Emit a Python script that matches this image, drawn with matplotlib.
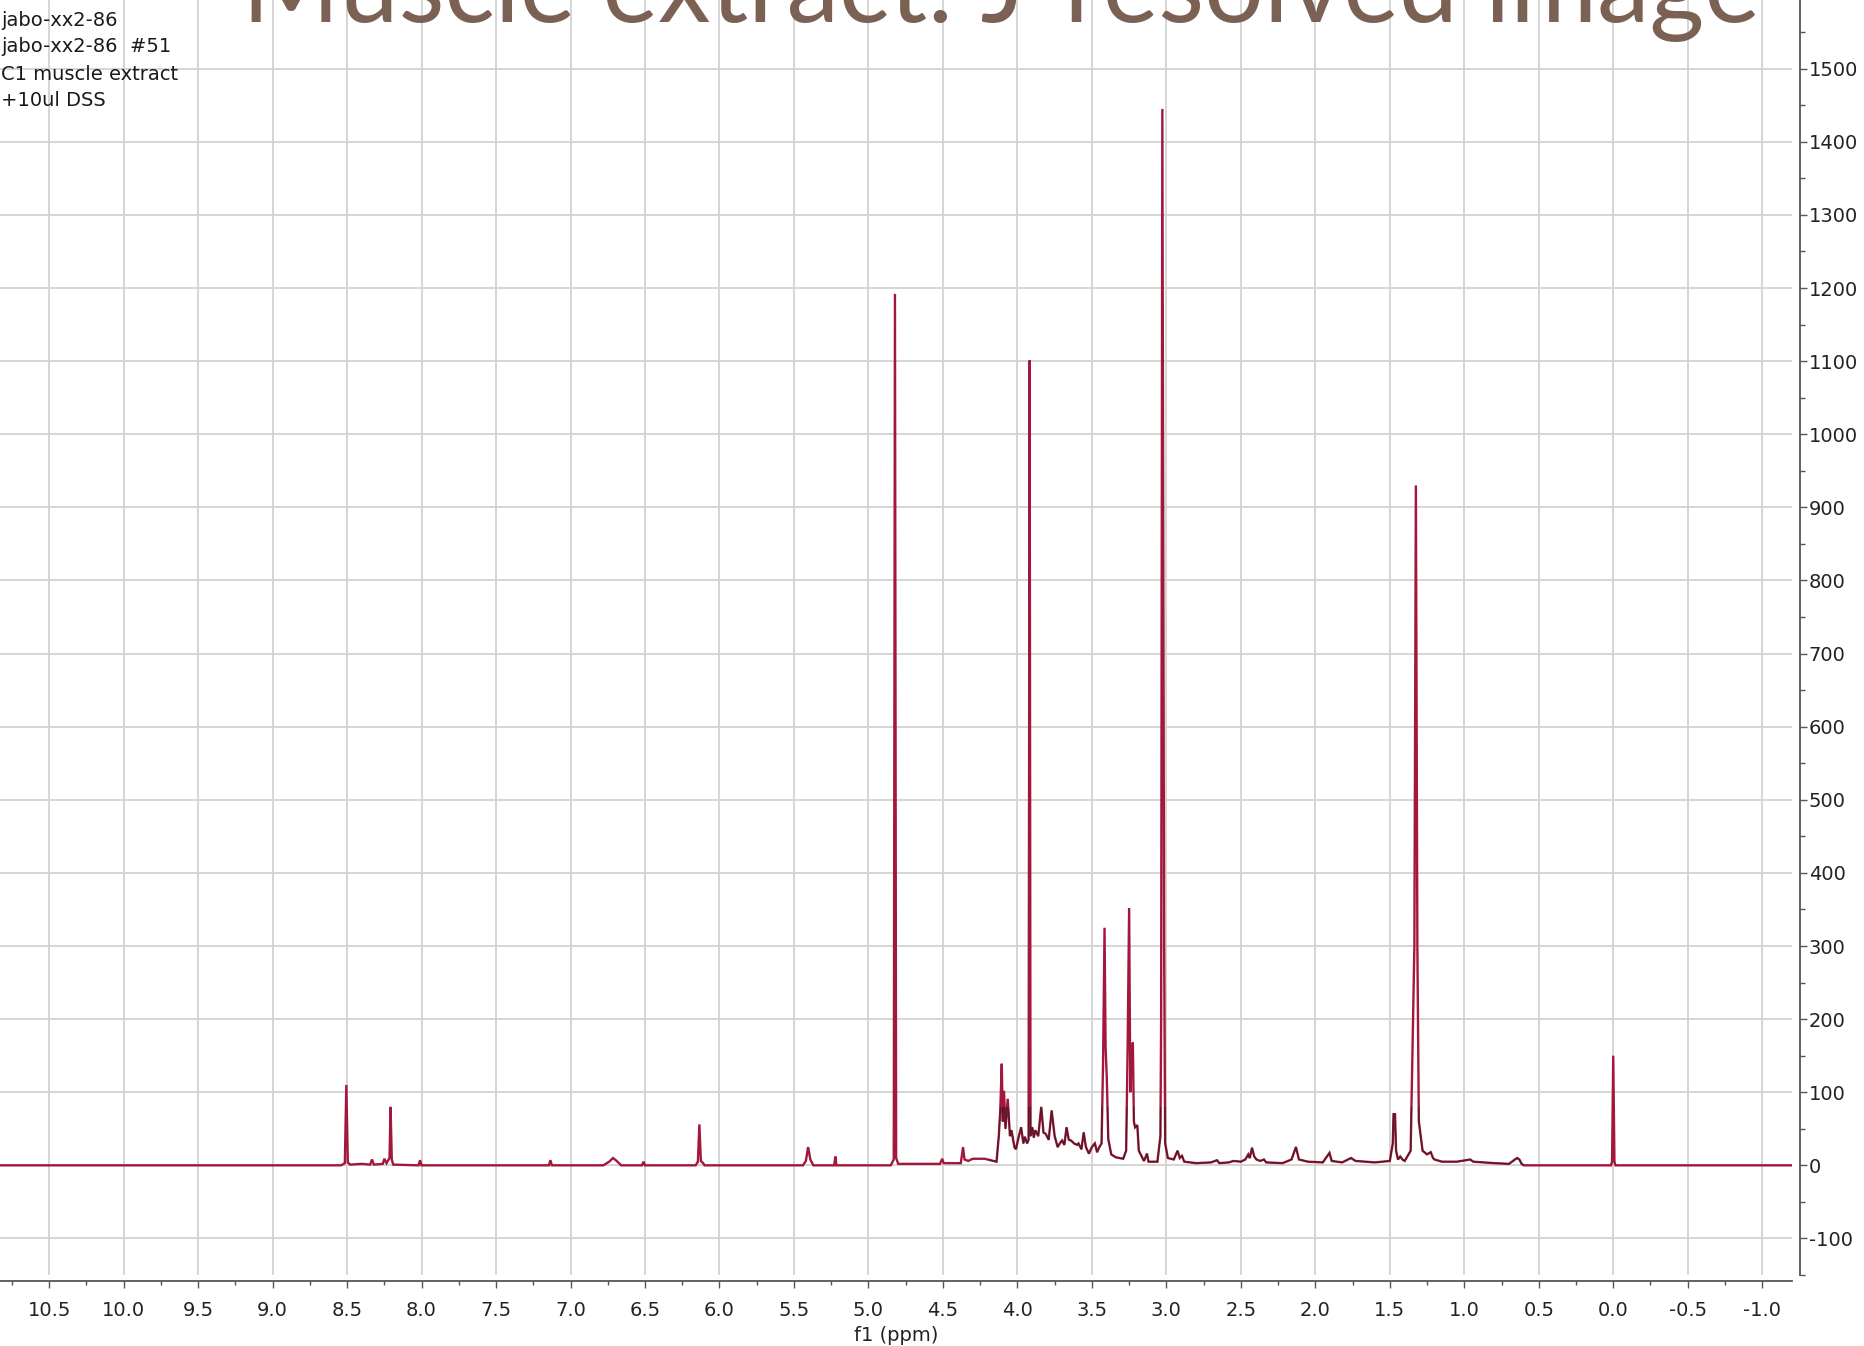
import numpy as np
import matplotlib
matplotlib.use("Agg")
import matplotlib.pyplot as plt
from matplotlib.ticker import MultipleLocator, FuncFormatter
from matplotlib.patches import Rectangle

# figure is 1864x1346 px
W, H = 1864, 1346
plt.rcParams['axes.unicode_minus'] = False
plt.rcParams['font.family'] = ['DejaVu Sans']

title = 'Muscle extract: J-resolved image'
sample_lines = ['jabo-xx2-86', 'jabo-xx2-86  #51', 'C1 muscle extract', '+10ul DSS']
x_label = 'f1 (ppm)'

# spectrum vertices (ppm, intensity), high ppm -> low ppm
ppm = [10.83, 8.54, 8.515, 8.505, 8.495, 8.48, 8.40, 8.345, 8.333, 8.32,
       8.26, 8.25, 8.235, 8.215, 8.208, 8.200, 8.19, 8.02, 8.01, 8.00,
       7.50, 7.145, 7.135, 7.125, 6.78, 6.74, 6.715, 6.69, 6.66, 6.52,
       6.51, 6.50, 6.16, 6.145, 6.135, 6.125, 6.11, 6.10, 5.44, 5.42,
       5.405, 5.39, 5.37, 5.23, 5.222, 5.215, 4.85, 4.83, 4.822, 4.814,
       4.80, 4.52, 4.505, 4.495, 4.38, 4.365, 4.355, 4.33, 4.30, 4.22,
       4.14, 4.125, 4.115, 4.105, 4.098, 4.09, 4.08, 4.065, 4.05, 4.04,
       4.02, 4.01, 3.99, 3.975, 3.96, 3.95, 3.935, 3.925, 3.918, 3.912,
       3.90, 3.89, 3.88, 3.86, 3.84, 3.825, 3.81, 3.79, 3.77, 3.75,
       3.73, 3.715, 3.70, 3.685, 3.67, 3.655, 3.64, 3.62, 3.60, 3.59,
       3.57, 3.555, 3.54, 3.52, 3.50, 3.48, 3.465, 3.45, 3.435, 3.425,
       3.415, 3.408, 3.40, 3.39, 3.37, 3.34, 3.29, 3.27, 3.26, 3.25,
       3.242, 3.232, 3.225, 3.218, 3.21, 3.195, 3.185, 3.175, 3.15, 3.13,
       3.12, 3.06, 3.04, 3.035, 3.027, 3.015, 3.008, 2.99, 2.95, 2.925,
       2.91, 2.895, 2.88, 2.80, 2.70, 2.66, 2.645, 2.58, 2.55, 2.50,
       2.47, 2.45, 2.44, 2.425, 2.41, 2.395, 2.37, 2.345, 2.33, 2.22,
       2.16, 2.13, 2.11, 2.05, 1.95, 1.905, 1.89, 1.82, 1.76, 1.73,
       1.60, 1.50, 1.48, 1.475, 1.465, 1.458, 1.445, 1.43, 1.415, 1.40,
       1.36, 1.335, 1.325, 1.315, 1.305, 1.28, 1.25, 1.225, 1.21, 1.20,
       1.15, 1.05, 0.96, 0.94, 0.80, 0.70, 0.66, 0.645, 0.63, 0.615,
       0.60, 0.015, 0.008, 0.0, -0.008, -0.015, -1.20]
intensity = [0, 0, 3, 110, 4, 1, 2, 1, 8, 1,
             2, 9, 3, 10, 80, 8, 1, 0, 7, 0,
             0, 0, 7, 0, 0, 5, 10, 6, 0, 0,
             5, 0, 0, 5, 56, 6, 3, 0, 0, 6,
             25, 8, 0, 0, 12, 0, 0, 8, 1192, 10,
             2, 2, 9, 3, 3, 25, 8, 6, 9, 9,
             5, 40, 75, 139, 60, 102, 50, 91, 40, 48,
             25, 22, 40, 52, 30, 39, 30, 35, 1101, 40,
             52, 38, 48, 40, 80, 45, 43, 35, 75, 40,
             25, 30, 34, 28, 52, 35, 34, 30, 28, 30,
             22, 45, 25, 16, 25, 30, 18, 25, 30, 140,
             325, 161, 120, 36, 15, 11, 9, 20, 161, 352,
             100, 150, 168, 60, 52, 55, 20, 16, 6, 16,
             5, 5, 40, 200, 1445, 300, 30, 10, 8, 20,
             10, 13, 5, 3, 4, 7, 3, 4, 6, 5,
             8, 15, 10, 24, 12, 8, 6, 8, 4, 3,
             8, 25, 8, 5, 4, 17, 6, 4, 10, 6,
             4, 6, 30, 70, 70, 20, 8, 12, 8, 6,
             20, 300, 930, 300, 60, 20, 15, 18, 10, 8,
             5, 5, 8, 5, 3, 2, 8, 10, 8, 2,
             0, 0, 5, 150, 5, 0, 0]

x_lim = (10.83, -1.20)
y_lim = (-150, 1594)

red = '#a3173c'
dark = '#3a1c1c'
title_color = '#7b6154'


def fx(px):
    return px / W


def fy(py):
    return 1 - py / H


fig = plt.figure(figsize=(W / 100, H / 100), dpi=100)
ax = fig.add_axes([0, fy(1275), fx(1792), 1275 / H])

ax.plot(ppm, intensity, color=red, lw=1.7, zorder=3, solid_joinstyle='miter')
# the low crowded part shows a darker trace on top of the red one
dk, = ax.plot(ppm, intensity, color=dark, lw=0.9, alpha=0.75, zorder=4)
dk.set_clip_path(Rectangle((4.2, -20), -3.6, 100, transform=ax.transData))

ax.set_xlim(*x_lim)
ax.set_ylim(*y_lim)

# axes like the NMR program: x at bottom, intensity scale on the right
ax.spines['top'].set_visible(False)
ax.spines['left'].set_visible(False)
ax.spines['right'].set_position(('outward', 6))
ax.spines['bottom'].set_position(('outward', 4))
for s in ['right', 'bottom']:
    ax.spines[s].set_color('#555555')
    ax.spines[s].set_linewidth(1.3)

ax.yaxis.tick_right()
ax.xaxis.set_major_locator(MultipleLocator(0.5))
ax.xaxis.set_minor_locator(MultipleLocator(0.25))
ax.yaxis.set_major_locator(MultipleLocator(100))
ax.yaxis.set_minor_locator(MultipleLocator(50))
ax.xaxis.set_major_formatter(FuncFormatter(lambda v, p: f'{v:.1f}'))
ax.yaxis.set_major_formatter(FuncFormatter(lambda v, p: f'{v:.0f}'))

ax.tick_params(axis='x', which='major', direction='out', length=5, width=1,
               color='#555555', labelsize=14, pad=10, labelcolor='#222222')
ax.tick_params(axis='x', which='minor', direction='out', length=3, width=1,
               color='#555555')
ax.tick_params(axis='y', which='major', direction='out', length=5, width=1,
               color='#555555', labelsize=14, pad=1, labelcolor='#222222')
ax.tick_params(axis='y', which='minor', direction='out', length=3.5, width=1,
               color='#555555')

ax.grid(which='major', color='#d2d2d2', lw=1.3, zorder=0)
ax.set_axisbelow(True)

ax.set_xlabel(x_label, fontsize=14, color='#222222', labelpad=4)

# sample info, top left
for i, line in enumerate(sample_lines):
    fig.text(fx(1), fy(20 + 27 * i), line, fontsize=14, color='#1a1a1a',
             ha='left', va='center')

# slide title, cut off by the top edge like in the screenshot
fig.text(fx(242), fy(22), title, fontsize=76, family='Lato',
         color=title_color, ha='left', va='baseline')

fig.savefig('out.png', dpi=100)
